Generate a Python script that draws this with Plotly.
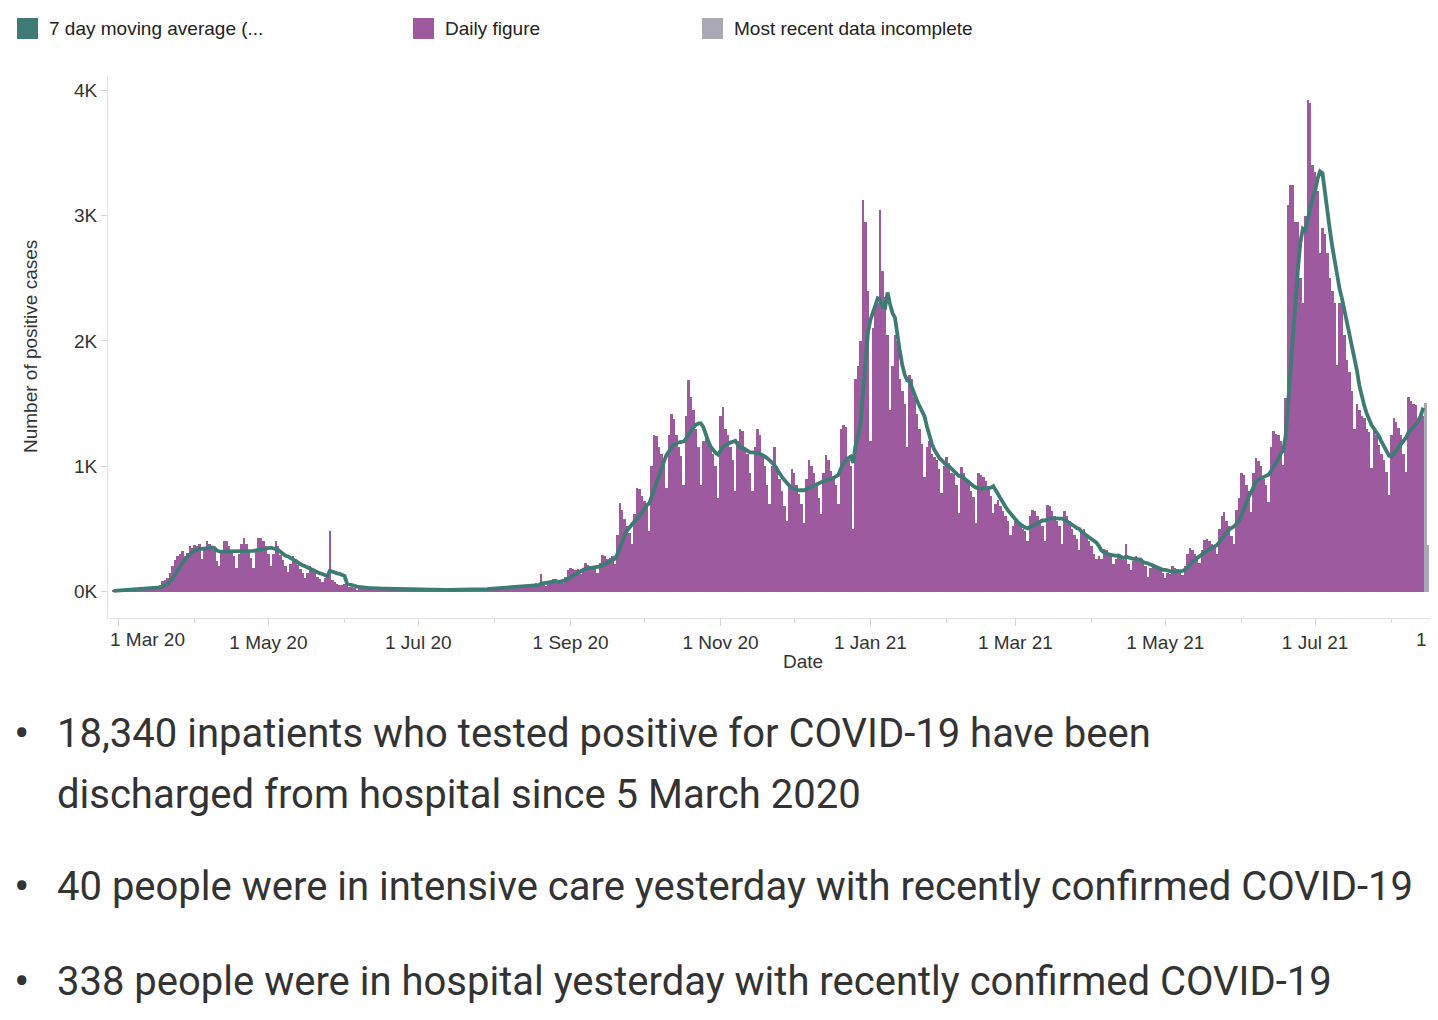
import pandas as pd
import plotly.graph_objects as go

# ---------------- data (daily positive cases) ----------------
START_DATE = "2020-02-28"
FEB_2020 = [5, 8]
MAR_2020 = [8, 10, 12, 14, 12, 15, 13, 18, 22, 25, 28, 30, 32, 20, 30, 35, 42, 50, 85, 90, 110,
            150, 200, 250, 280, 300, 320, 280, 310, 360, 350]
APR_2020 = [370, 360, 380, 260, 330, 400, 380, 360, 330, 240, 200, 310, 400, 400, 360, 320, 280, 190,
            300, 380, 430, 380, 320, 270, 190, 330, 430, 430, 400, 360]
MAY_2020 = [300, 200, 300, 400, 360, 290, 250, 200, 160, 220, 280, 260, 210, 180, 150, 110,
            150, 200, 180, 150, 120, 100, 80, 110, 120, 480, 90, 80, 60, 50, 55]
JUN_2020 = [60, 50, 40, 35, 25, 15, 30, 35, 32, 28, 25, 25, 20, 22, 28, 25, 22, 20, 20, 15,
            18, 22, 20, 18, 17, 17, 14, 15, 18, 17]
JUL_2020 = [15, 14, 13, 12, 12, 15, 14, 13, 13, 12, 10, 12, 16, 14, 13, 12, 12, 10,
            14, 18, 16, 15, 14, 14, 12, 20, 28, 26, 25, 24, 26]
AUG_2020 = [22, 28, 35, 32, 30, 30, 28, 25, 35, 50, 48, 45, 50, 45, 40, 45, 60, 65, 55, 140, 55, 45,
            70, 90, 100, 90, 85, 85, 70, 120, 170]
SEP_2020 = [190, 180, 175, 180, 140, 170, 230, 215, 200, 195, 190, 150, 230, 290, 280, 260, 270, 280, 220,
            450, 710, 650, 580, 520, 470, 380, 620, 830, 820, 760]
OCT_2020 = [720, 700, 480, 1000, 1250, 1240, 1150, 1100, 1050, 830, 1250, 1420, 1380, 1250, 1150, 1080, 850,
            1400, 1690, 1550, 1450, 1300, 1150, 850, 1200, 1250, 1200, 1150, 1100, 1000, 750]
NOV_2020 = [1400, 1470, 1300, 1250, 1150, 1050, 800, 1200, 1300, 1280, 1150, 1100, 950, 800,
            1150, 1300, 1250, 1100, 1000, 850, 700, 1000, 1150, 1000, 900, 800, 680, 560, 850, 980]
DEC_2020 = [950, 850, 780, 700, 550, 900, 1050, 1000, 950, 850, 750, 620, 950, 1090, 1050, 960, 920, 850, 700,
            1300, 1330, 1310, 1050, 1000, 500, 1700, 1800, 2000, 3124, 2950, 2400]
JAN_2021 = [1200, 2100, 2300, 2300, 3045, 2560, 2350, 2050, 1450, 1800, 2050, 2000, 1700, 1600, 1500, 1150,
            1730, 1700, 1555, 1420, 1300, 1180, 915, 1150, 1200, 1100, 1075, 1050, 980, 785, 1000]
FEB_2021 = [1075, 1025, 945, 940, 850, 625, 995, 950, 890, 870, 800, 755, 545, 945, 930, 915, 880, 835, 760, 625,
            700, 730, 680, 640, 600, 560, 450, 520]
MAR_2021 = [560, 540, 520, 500, 480, 400, 600, 650, 640, 600, 560, 520, 400, 690, 680, 640, 600, 560, 520, 380,
            640, 600, 560, 500, 450, 420, 330, 470, 500, 440, 400]
APR_2021 = [360, 300, 260, 280, 260, 340, 330, 300, 280, 220, 260, 290, 270, 250, 380, 220, 170,
            240, 280, 260, 240, 230, 200, 115, 190, 210, 200, 180, 170, 150]
MAY_2021 = [110, 150, 140, 200, 190, 180, 170, 130, 200, 300, 350, 330, 300, 270, 230,
            330, 410, 420, 400, 380, 350, 300, 500, 600, 635, 560, 520, 443, 380, 650, 750]
JUN_2021 = [950, 930, 850, 800, 635, 950, 1065, 1040, 1000, 900, 850, 715, 1150, 1280, 1260, 1250, 1200, 1010, 1545,
            3085, 3245, 3245, 2950, 2950, 2500, 2300, 3000, 3920, 3900, 3400]
JUL_2021 = [3350, 3200, 2700, 2900, 2850, 2700, 2500, 2400, 2300, 1810, 2300, 2310, 2050, 1850, 1750, 1600, 1300,
            1500, 1450, 1400, 1385, 1300, 1270, 985, 1305, 1250, 1170, 1100, 1050, 955, 770]
AUG_2021 = [1250, 1385, 1350, 1305, 1250, 1100, 955, 1550, 1520, 1500, 1490, 1385, 1430, 1400]
AUG_2021_INCOMPLETE = [1505, 370]

Y_TICK_VALUES = [0, 1000, 2000, 3000, 4000]
Y_TICK_LABELS = ["0K", "1K", "2K", "3K", "4K"]
X_MAJOR_TICKS = ["2020-03-01", "2020-05-01", "2020-07-01", "2020-09-01", "2020-11-01",
                 "2021-01-01", "2021-03-01", "2021-05-01", "2021-07-01"]
X_MAJOR_LABELS = ["", "1 May 20", "1 Jul 20", "1 Sep 20", "1 Nov 20",
                  "1 Jan 21", "1 Mar 21", "1 May 21", "1 Jul 21"]
X_MINOR_TICKS = ["2020-04-01", "2020-06-01", "2020-08-01", "2020-10-01", "2020-12-01",
                 "2021-02-01", "2021-04-01", "2021-06-01", "2021-08-01"]

LEGEND_LABELS = ["7 day moving average (...", "Daily figure", "Most recent data incomplete"]
BULLETS = [
    ["18,340 inpatients who tested positive for COVID-19 have been",
     "discharged from hospital since 5 March 2020"],
    ["40 people were in intensive care yesterday with recently confirmed COVID-19"],
    ["338 people were in hospital yesterday with recently confirmed COVID-19"],
]

# ---------------- build series ----------------
complete_vals = (FEB_2020 + MAR_2020 + APR_2020 + MAY_2020 + JUN_2020 + JUL_2020 + AUG_2020 +
                 SEP_2020 + OCT_2020 + NOV_2020 + DEC_2020 + JAN_2021 + FEB_2021 + MAR_2021 +
                 APR_2021 + MAY_2021 + JUN_2021 + JUL_2021 + AUG_2021)
all_vals = complete_vals + AUG_2021_INCOMPLETE
dates = pd.date_range(START_DATE, periods=len(all_vals), freq="D")
series = pd.Series(all_vals, index=dates)
moving_avg = series.rolling(7, min_periods=1).mean().iloc[:len(complete_vals)]

PURPLE = "#9d5a9e"
TEAL = "#3e7b75"
GREY = "#aba8b5"
TEXT = "#333333"
AXIS_FONT = "Liberation Sans, Arial, sans-serif"
DAY_MS = 86400000

fig = go.Figure()
fig.add_trace(go.Bar(x=dates[:len(complete_vals)], y=complete_vals, width=DAY_MS,
                     marker=dict(color=PURPLE, line=dict(width=0)), name=LEGEND_LABELS[1]))
fig.add_trace(go.Bar(x=dates[len(complete_vals):], y=AUG_2021_INCOMPLETE, width=DAY_MS,
                     marker=dict(color=GREY, line=dict(width=0)), name=LEGEND_LABELS[2]))
fig.add_trace(go.Scatter(x=moving_avg.index, y=moving_avg.values, mode="lines",
                         line=dict(color=TEAL, width=3.8), name=LEGEND_LABELS[0]))

# The page body has an 8px margin, so figure pixel = screen pixel - 8
OFF = 8
FIG_W, FIG_H = 1430, 1004
L, R, T, B = 108 - OFF, 1438 - OFF, 76 - OFF, 618 - OFF
W, H = R - L, B - T


def px(x):
    """screen x (reference pixels) -> paper coordinate"""
    return (x - OFF - L) / W


def py(y):
    """screen y (reference pixels) -> paper coordinate"""
    return (B - (y - OFF)) / H


annotations = []
shapes = []

# legend
legend_items = [(17, TEAL, 47), (413, PURPLE, 443), (702, GREY, 732)]
for (sx, col, tx), lab in zip(legend_items, LEGEND_LABELS):
    shapes.append(dict(type="rect", xref="paper", yref="paper", x0=px(sx), x1=px(sx + 21),
                       y0=py(39), y1=py(18), fillcolor=col, line=dict(width=0)))
    annotations.append(dict(text=lab, xref="paper", yref="paper", x=px(tx), y=py(29),
                            xanchor="left", yanchor="middle", showarrow=False,
                            font=dict(family=AXIS_FONT, size=19, color="#222222")))

# axis texts
annotations.append(dict(text="Number of positive cases", xref="paper", yref="paper", x=px(30), y=py(347),
                        textangle=-90, xanchor="center", yanchor="middle", showarrow=False,
                        font=dict(family=AXIS_FONT, size=19, color=TEXT)))
annotations.append(dict(text="Date", xref="paper", yref="paper", x=px(803), y=py(661),
                        xanchor="center", yanchor="middle", showarrow=False,
                        font=dict(family=AXIS_FONT, size=19, color=TEXT)))
annotations.append(dict(text="1 Mar 20", xref="paper", yref="paper", x=px(108), y=py(640),
                        xanchor="left", yanchor="middle", showarrow=False,
                        font=dict(family=AXIS_FONT, size=19, color=TEXT)))
# the next date label is cut by the right page edge, as in the original
annotations.append(dict(text="1 Sep 21", xref="paper", yref="paper", x=px(1414), y=py(640),
                        xanchor="left", yanchor="middle", showarrow=False,
                        font=dict(family=AXIS_FONT, size=19, color=TEXT)))

# bullet text
line_ys = [[733, 794], [886], [981]]
for lines, ys in zip(BULLETS, line_ys):
    annotations.append(dict(text="\u2022", xref="paper", yref="paper", x=px(22), y=py(ys[0]),
                            xanchor="center", yanchor="middle", showarrow=False,
                            font=dict(family="Roboto", size=46, color=TEXT)))
    for t, yy in zip(lines, ys):
        annotations.append(dict(text=t, xref="paper", yref="paper", x=px(55), y=py(yy),
                                xanchor="left", yanchor="middle", showarrow=False,
                                font=dict(family="Roboto", size=40, color=TEXT)))

# dotted baseline
shapes.append(dict(type="line", xref="x", yref="y", x0=dates[0], x1=dates[-1], y0=0, y1=0,
                   line=dict(color="#d4a8d4", width=1, dash="dot"), layer="below"))

fig.update_layout(
    width=FIG_W, height=FIG_H,
    margin=dict(l=L, r=FIG_W - R, t=T, b=FIG_H - B, pad=0),
    paper_bgcolor="white", plot_bgcolor="white",
    showlegend=False, barmode="overlay", bargap=0,
    annotations=annotations, shapes=shapes,
    xaxis=dict(type="date", range=["2020-02-25 17:30", "2021-08-20 00:00"],
               tickmode="array", tickvals=X_MAJOR_TICKS, ticktext=X_MAJOR_LABELS,
               ticks="outside", ticklen=7, tickcolor="#d6d6d6", tickwidth=1,
               showline=True, linecolor="#e2e2e2", linewidth=1, showgrid=False, zeroline=False,
               tickfont=dict(family=AXIS_FONT, size=19, color=TEXT),
               minor=dict(tickvals=X_MINOR_TICKS, ticks="outside", ticklen=4,
                          tickcolor="#d6d6d6", showgrid=False)),
    yaxis=dict(range=[-211, 4114], tickmode="array", tickvals=Y_TICK_VALUES, ticktext=Y_TICK_LABELS,
               ticks="outside", ticklen=6, tickcolor="#d6d6d6", tickwidth=1,
               showline=True, linecolor="#e2e2e2", linewidth=1, showgrid=False, zeroline=False,
               tickfont=dict(family=AXIS_FONT, size=19, color=TEXT)),
)

fig.write_html("out.html")
